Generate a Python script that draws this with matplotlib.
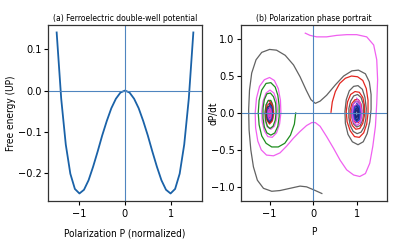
import numpy as np
import matplotlib
matplotlib.use('Agg')
import matplotlib.pyplot as plt

# (a) double-well free energy
pol = [-1.5, -1.4, -1.3, -1.2, -1.1, -1.0, -0.9, -0.8, -0.7, -0.6, -0.5, -0.4, -0.3, -0.2, -0.1, 0.0,
       0.1, 0.2, 0.3, 0.4, 0.5, 0.6, 0.7, 0.8, 0.9, 1.0, 1.1, 1.2, 1.3, 1.4, 1.5]
free_energy = [0.141, -0.020, -0.131, -0.202, -0.239, -0.250, -0.241, -0.218, -0.185, -0.148, -0.109,
               -0.074, -0.043, -0.020, -0.005, 0.000, -0.005, -0.020, -0.043, -0.074, -0.109, -0.148,
               -0.185, -0.218, -0.241, -0.250, -0.239, -0.202, -0.131, -0.020, 0.141]

# (b) phase portrait trajectories, (P, dP/dt) points
traj_gray = [(0.20, -1.09), (0.05, -1.05), (-0.15, -1.00), (-0.30, -0.99), (-0.53, -1.02), (-0.76, -1.05),
             (-0.95, -1.06), (-1.14, -1.02), (-1.28, -0.91), (-1.37, -0.73), (-1.43, -0.50), (-1.47, -0.23),
             (-1.48, 0.04), (-1.46, 0.31), (-1.41, 0.54), (-1.31, 0.72), (-1.18, 0.82), (-1.00, 0.86),
             (-0.84, 0.85), (-0.64, 0.78), (-0.45, 0.65), (-0.30, 0.49), (-0.16, 0.31), (-0.05, 0.18),
             (0.05, 0.13), (0.16, 0.16), (0.31, 0.24), (0.51, 0.38), (0.70, 0.50), (0.89, 0.57), (1.04, 0.58),
             (1.20, 0.53), (1.29, 0.42), (1.33, 0.25), (1.33, 0.05), (1.30, -0.12), (1.24, -0.28), (1.15, -0.39),
             (1.03, -0.43), (0.90, -0.39), (0.80, -0.29), (0.74, -0.14), (0.73, 0.02), (0.76, 0.18), (0.83, 0.30),
             (0.93, 0.36), (1.03, 0.37), (1.13, 0.32), (1.19, 0.21), (1.22, 0.06), (1.21, -0.08), (1.17, -0.19),
             (1.10, -0.26), (1.01, -0.28), (0.92, -0.25), (0.85, -0.17), (0.82, -0.06), (0.82, 0.06), (0.86, 0.16),
             (0.93, 0.23), (1.02, 0.25), (1.10, 0.21), (1.15, 0.12), (1.16, 0.02), (1.14, -0.09), (1.08, -0.17),
             (1.00, -0.19), (0.93, -0.15), (0.89, -0.07), (0.88, 0.03), (0.91, 0.11), (0.97, 0.16), (1.04, 0.15),
             (1.09, 0.09), (1.10, 0.00), (1.07, -0.08), (1.01, -0.11), (0.96, -0.08), (0.94, -0.02), (0.95, 0.05),
             (0.99, 0.08), (1.03, 0.07), (1.05, 0.02), (1.03, -0.03), (1.00, -0.04)]
traj_red = [(0.41, 0.01), (0.44, 0.15), (0.51, 0.29), (0.61, 0.40), (0.74, 0.47), (0.88, 0.50), (1.02, 0.49),
            (1.14, 0.44), (1.22, 0.33), (1.26, 0.17), (1.26, 0.00), (1.23, -0.15), (1.16, -0.27), (1.06, -0.33),
            (0.95, -0.32), (0.85, -0.24), (0.78, -0.12), (0.76, 0.02), (0.79, 0.15), (0.86, 0.25), (0.96, 0.29),
            (1.06, 0.28), (1.14, 0.21), (1.18, 0.10), (1.18, -0.03), (1.14, -0.14), (1.07, -0.21), (0.98, -0.22),
            (0.90, -0.17), (0.85, -0.08), (0.85, 0.04), (0.89, 0.13), (0.96, 0.18), (1.04, 0.18), (1.10, 0.12),
            (1.12, 0.03), (1.10, -0.07), (1.04, -0.13), (0.97, -0.13), (0.92, -0.07), (0.91, 0.02), (0.94, 0.09),
            (1.00, 0.11), (1.05, 0.07), (1.06, 0.00), (1.03, -0.05), (0.99, -0.06), (0.96, -0.02), (0.97, 0.03),
            (1.00, 0.04), (1.02, 0.01)]
traj_magenta = [(-0.18, 1.08), (-0.07, 1.05), (0.08, 1.03), (0.31, 1.03), (0.54, 1.05), (0.77, 1.06), (1.00, 1.06),
                (1.23, 1.03), (1.39, 0.92), (1.46, 0.72), (1.48, 0.45), (1.46, 0.13), (1.43, -0.18), (1.37, -0.45),
                (1.30, -0.68), (1.20, -0.82), (1.07, -0.86), (0.93, -0.84), (0.77, -0.77), (0.62, -0.64),
                (0.47, -0.48), (0.31, -0.32), (0.16, -0.18), (0.05, -0.13), (-0.03, -0.13), (-0.15, -0.17),
                (-0.30, -0.25), (-0.45, -0.34), (-0.61, -0.45), (-0.76, -0.54), (-0.91, -0.58), (-1.07, -0.57),
                (-1.19, -0.50), (-1.27, -0.38), (-1.32, -0.20), (-1.33, 0.00), (-1.30, 0.20), (-1.23, 0.36),
                (-1.12, 0.45), (-1.00, 0.48), (-0.89, 0.44), (-0.80, 0.33), (-0.75, 0.17), (-0.74, 0.00),
                (-0.77, -0.15), (-0.84, -0.27), (-0.94, -0.33), (-1.04, -0.32), (-1.12, -0.24), (-1.17, -0.12),
                (-1.18, 0.02), (-1.15, 0.16), (-1.08, 0.27), (-0.99, 0.31), (-0.90, 0.27), (-0.84, 0.17),
                (-0.82, 0.04), (-0.84, -0.09), (-0.89, -0.18), (-0.97, -0.22), (-1.05, -0.19), (-1.10, -0.11),
                (-1.11, 0.01), (-1.08, 0.11), (-1.02, 0.17), (-0.95, 0.15), (-0.91, 0.08), (-0.90, -0.02),
                (-0.93, -0.10), (-0.99, -0.13), (-1.04, -0.09), (-1.06, -0.01), (-1.04, 0.07), (-1.00, 0.09),
                (-0.96, 0.05), (-0.96, -0.03), (-0.99, -0.06), (-1.02, -0.03), (-1.01, 0.02)]
traj_green = [(-0.40, 0.00), (-0.43, -0.15), (-0.52, -0.30), (-0.65, -0.41), (-0.80, -0.46), (-0.95, -0.46),
              (-1.08, -0.41), (-1.18, -0.31), (-1.24, -0.16), (-1.26, 0.00), (-1.24, 0.17), (-1.18, 0.31),
              (-1.08, 0.40), (-0.97, 0.41), (-0.87, 0.35), (-0.81, 0.24), (-0.78, 0.10), (-0.78, -0.05),
              (-0.81, -0.18), (-0.88, -0.27), (-0.97, -0.30), (-1.06, -0.27), (-1.12, -0.19), (-1.15, -0.07),
              (-1.15, 0.06), (-1.12, 0.18), (-1.06, 0.26), (-0.98, 0.27), (-0.91, 0.22), (-0.86, 0.13),
              (-0.85, 0.01), (-0.87, -0.10), (-0.92, -0.18), (-0.99, -0.21), (-1.05, -0.18), (-1.09, -0.10),
              (-1.10, 0.01), (-1.08, 0.11), (-1.03, 0.17), (-0.97, 0.17), (-0.93, 0.11), (-0.91, 0.02),
              (-0.93, -0.07), (-0.97, -0.12), (-1.02, -0.11), (-1.05, -0.05), (-1.05, 0.03), (-1.02, 0.08),
              (-0.99, 0.08), (-0.97, 0.03), (-0.98, -0.02), (-1.00, -0.03)]
# small spirals sitting in the bottom of each well
core_left_red = [(-1.00, 0.16), (-0.94, 0.11), (-0.91, 0.00), (-0.94, -0.11), (-1.00, -0.15), (-1.06, -0.10),
                 (-1.08, 0.00), (-1.06, 0.10), (-1.00, 0.13), (-0.95, 0.09), (-0.93, 0.00), (-0.95, -0.08),
                 (-1.00, -0.11), (-1.04, -0.07), (-1.05, 0.00), (-1.04, 0.06), (-1.00, 0.08)]
core_left_gray = [(-1.00, 0.13), (-0.95, 0.09), (-0.93, 0.00), (-0.95, -0.09), (-1.00, -0.13), (-1.05, -0.09),
                  (-1.07, 0.00), (-1.05, 0.08), (-1.00, 0.10)]
core_left_blue = [(-1.00, 0.11), (-0.96, 0.08), (-0.94, 0.00), (-0.96, -0.08), (-1.00, -0.11), (-1.04, -0.07),
                  (-1.05, 0.00), (-1.04, 0.06), (-1.00, 0.08), (-0.97, 0.05), (-0.96, 0.00), (-0.97, -0.05),
                  (-1.00, -0.07), (-1.02, -0.04), (-1.03, 0.00), (-1.02, 0.03), (-1.00, 0.04)]
core_left_pink = [(-1.00, 0.07), (-0.97, 0.05), (-0.96, 0.00), (-0.97, -0.06), (-1.00, -0.09), (-1.03, -0.05),
                  (-1.04, 0.00), (-1.03, 0.04), (-1.00, 0.05), (-0.98, 0.03), (-0.98, -0.02), (-1.00, -0.05),
                  (-1.02, -0.02), (-1.01, 0.02)]
core_right_magenta = [(1.00, 0.20), (1.08, 0.14), (1.12, 0.00), (1.09, -0.13), (1.00, -0.17), (0.92, -0.12),
                      (0.89, 0.00), (0.92, 0.12), (1.00, 0.16), (1.07, 0.11), (1.10, 0.00), (1.07, -0.10),
                      (1.00, -0.13), (0.94, -0.09), (0.92, 0.00), (0.94, 0.09), (1.00, 0.12)]
core_right_blue = [(1.00, 0.13), (1.06, 0.09), (1.08, 0.00), (1.06, -0.09), (1.00, -0.12), (0.95, -0.08),
                   (0.93, 0.00), (0.95, 0.08), (1.00, 0.10), (1.05, 0.07), (1.06, 0.00), (1.05, -0.07),
                   (1.00, -0.09), (0.96, -0.06), (0.95, 0.00), (0.96, 0.06), (1.00, 0.07), (1.03, 0.05),
                   (1.04, 0.00), (1.03, -0.04), (1.00, -0.06), (0.98, -0.04), (0.97, 0.00), (0.98, 0.03),
                   (1.00, 0.04)]
core_right_navy = [(1.00, 0.09), (1.04, 0.06), (1.05, 0.00), (1.04, -0.07), (1.00, -0.10), (0.97, -0.06),
                   (0.96, 0.00), (0.97, 0.05), (1.00, 0.06), (1.02, 0.03), (1.03, -0.01), (1.02, -0.05),
                   (1.00, -0.06), (0.98, -0.03), (0.98, 0.02), (1.00, 0.03)]

phase_curves = [
    (traj_gray, '#626262'),
    (traj_red, '#e3261f'),
    (traj_magenta, '#f060f0'),
    (traj_green, '#1d8c1d'),
    (core_left_red, '#e3261f'),
    (core_left_gray, '#3a3a3a'),
    (core_left_blue, '#2545c8'),
    (core_left_pink, '#e040c8'),
    (core_right_magenta, '#d050e8'),
    (core_right_blue, '#2545c8'),
    (core_right_navy, '#1b2a78'),
]

plt.rcParams['font.family'] = ['DejaVu Sans']
plt.rcParams['font.stretch'] = 'condensed'

fig = plt.figure(figsize=(4, 2.48), dpi=100)
ax1 = fig.add_axes([0.12, 0.19, 0.385, 0.709])
ax2 = fig.add_axes([0.602, 0.19, 0.366, 0.709])

cross = '#4f85bf'

# Panel (a)
ax1.plot(pol, free_energy, color='#1a62a8', lw=1.3)
ax1.axhline(0, color=cross, lw=0.8)
ax1.axvline(0, color=cross, lw=0.8)
ax1.set_xlim(-1.69, 1.69)
ax1.set_ylim(-0.268, 0.159)
ax1.set_xticks([-1, 0, 1])
ax1.set_yticks([-0.2, -0.1, 0.0, 0.1])
ax1.set_title('(a) Ferroelectric double-well potential', fontsize=6.1, pad=3)
ax1.set_xlabel('Polarization P (normalized)', fontsize=7.2)
ax1.set_ylabel('Free energy (UP)', fontsize=7.2)
ax1.yaxis.set_label_coords(-0.21, 0.5)
ax1.xaxis.set_label_coords(0.5, -0.155)

# Panel (b)
for pts, col in phase_curves:
    arr = np.array(pts)
    ax2.plot(arr[:, 0], arr[:, 1], color=col, lw=0.9)
ax2.axhline(0, color=cross, lw=0.8)
ax2.axvline(0, color=cross, lw=0.8)
ax2.set_xlim(-1.66, 1.70)
ax2.set_ylim(-1.19, 1.19)
ax2.set_xticks([-1, 0, 1])
ax2.set_yticks([-1.0, -0.5, 0.0, 0.5, 1.0])
ax2.set_title('(b) Polarization phase portrait', fontsize=6.1, pad=3)
ax2.set_xlabel('P', fontsize=7.2)
ax2.set_ylabel('dP/dt', fontsize=7.2)
ax2.yaxis.set_label_coords(-0.155, 0.5)
ax2.xaxis.set_label_coords(0.5, -0.15)

for ax in (ax1, ax2):
    ax.tick_params(labelsize=7.8, length=3, width=0.8)
    ax.tick_params(axis='x', pad=3)
    ax.tick_params(axis='y', pad=1.5)
    for s in ax.spines.values():
        s.set_linewidth(0.9)
        s.set_color('#333333')

fig.savefig('out.png', dpi=100)
